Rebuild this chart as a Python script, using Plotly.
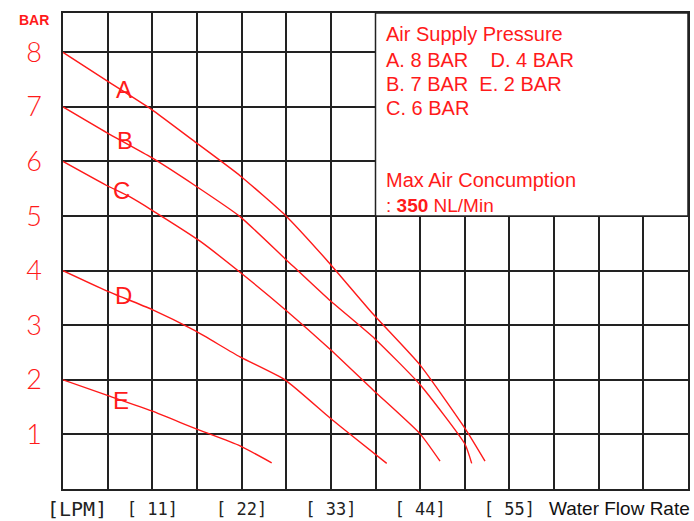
import plotly.graph_objects as go

# ---- data (flow in LPM, pressure in BAR) ----
curve_names = ["A", "B", "C", "D", "E"]
flow_A = [0, 5.38, 10.93, 16.26, 21.81, 27.35, 32.69, 38.23, 44.0, 49.53, 51.99]
bar_A = [8.0, 7.48, 6.95, 6.36, 5.74, 5.02, 4.16, 3.20, 2.27, 1.11, 0.51]
flow_B = [0, 5.38, 10.93, 16.26, 21.81, 27.35, 32.69, 38.44, 44.0, 49.53, 50.35]
bar_B = [7.0, 6.53, 6.07, 5.56, 4.99, 4.22, 3.48, 2.75, 1.91, 0.82, 0.47]
flow_C = [0, 5.38, 8.26, 10.93, 16.88, 21.81, 27.35, 32.90, 38.23, 44.0, 46.45]
bar_C = [6.0, 5.56, 5.35, 5.11, 4.54, 3.97, 3.29, 2.56, 1.81, 1.01, 0.51]
flow_D = [0, 5.38, 10.93, 16.26, 21.81, 27.35, 32.90, 35.57, 39.88]
bar_D = [4.0, 3.63, 3.29, 2.90, 2.42, 2.0, 1.30, 0.98, 0.47]
flow_E = [0, 5.38, 10.93, 16.26, 21.81, 25.71]
bar_E = [2.0, 1.72, 1.43, 1.11, 0.79, 0.48]

x_tick_values = [11, 22, 33, 44, 55]
x_tick_labels = ["[ 11]", "[ 22]", "[ 33]", "[ 44]", "[ 55]"]
y_tick_values = [1, 2, 3, 4, 5, 6, 7, 8]
y_tick_labels = ["1", "2", "3", "4", "5", "6", "7", "8"]

legend_lines = [
    "Air Supply Pressure",
    "A. 8 BAR\u00a0\u00a0\u00a0\u00a0D. 4 BAR",
    "B. 7 BAR\u00a0\u00a0E. 2 BAR",
    "C. 6 BAR",
]
consumption_title = "Max Air Concumption"
consumption_value = ": <b>350</b> NL/Min"

# ---- layout geometry ----
W, H = 694, 521
ML, MR, MT, MB = 63, 6, 13, 32
PLOT_L, PLOT_R, PLOT_T, PLOT_B = 63, 688, 13, 489
X_MAX, Y_MAX = 77, 8.72
RED = "#ff1a1a"
GRID = "#222222"
SANS = "Liberation Sans, Arial"


def px(x):
    return (x - PLOT_L) / (PLOT_R - PLOT_L)


def py(y):
    return (PLOT_B - y) / (PLOT_B - PLOT_T)


curves = [(flow_A, bar_A), (flow_B, bar_B), (flow_C, bar_C), (flow_D, bar_D), (flow_E, bar_E)]

fig = go.Figure()
for name, (fx, fy) in zip(curve_names, curves):
    fig.add_trace(go.Scatter(x=fx, y=fy, mode="lines", name=name,
                             line=dict(color=RED, width=1.4, shape="spline", smoothing=0.5),
                             showlegend=False, hoverinfo="skip"))

# curve labels
label_pos = {"A": (7.5, 7.32), "B": (7.6, 6.39), "C": (7.2, 5.47), "D": (7.5, 3.54), "E": (7.1, 1.62)}
annotations = []
for name in curve_names:
    lx, ly = label_pos[name]
    annotations.append(dict(x=lx, y=ly, xref="x", yref="y", text=name, showarrow=False,
                            font=dict(family=SANS, size=24, color=RED)))

# legend box text
legend_y = [34, 60, 84, 108]
for txt, yy in zip(legend_lines, legend_y):
    annotations.append(dict(x=px(384), y=py(yy), xref="paper", yref="paper", text=txt,
                            showarrow=False, xanchor="left", yanchor="middle",
                            font=dict(family=SANS, size=20, color=RED)))
annotations.append(dict(x=px(384), y=py(180), xref="paper", yref="paper", text=consumption_title,
                        showarrow=False, xanchor="left", yanchor="middle",
                        font=dict(family=SANS, size=20, color=RED)))
annotations.append(dict(x=px(384), y=py(205), xref="paper", yref="paper", text=consumption_value,
                        showarrow=False, xanchor="left", yanchor="middle",
                        font=dict(family=SANS, size=19, color=RED)))

# axis captions
annotations.append(dict(x=px(77), y=py(509), xref="paper", yref="paper", text="[LPM]",
                        showarrow=False, xanchor="center", yanchor="middle",
                        font=dict(family="DejaVu Sans Mono", size=20, color="#222")))
annotations.append(dict(x=px(692), y=py(508), xref="paper", yref="paper", text="Water Flow Rate",
                        showarrow=False, xanchor="right", yanchor="middle",
                        font=dict(family=SANS, size=19, color="#111")))
annotations.append(dict(x=px(34), y=py(20), xref="paper", yref="paper", text="<b>BAR</b>",
                        showarrow=False, xanchor="center", yanchor="middle",
                        font=dict(family=SANS, size=14, color=RED)))

# white legend panel over the grid (upper right)
shapes = [dict(type="rect", xref="x", yref="y", x0=38.5, x1=X_MAX, y0=5, y1=Y_MAX,
               fillcolor="white", line=dict(color=GRID, width=1.5), layer="between")]

fig.update_layout(
    width=W, height=H,
    margin=dict(l=ML, r=MR, t=MT, b=MB, autoexpand=False),
    paper_bgcolor="white", plot_bgcolor="white",
    annotations=annotations, shapes=shapes,
    xaxis=dict(range=[0, X_MAX], tickvals=x_tick_values, ticktext=x_tick_labels,
               automargin=False,
               showgrid=True, gridcolor=GRID, gridwidth=1.5, zeroline=False,
               minor=dict(tick0=0, dtick=5.5, showgrid=True, gridcolor=GRID, gridwidth=1.5),
               showline=True, mirror=True, linecolor=GRID, linewidth=1.5,
               ticks="", ticklabelstandoff=4,
               tickfont=dict(family="DejaVu Sans Mono", size=17, color="#222")),
    yaxis=dict(range=[0, Y_MAX], tickvals=y_tick_values, ticktext=y_tick_labels,
               automargin=False,
               showgrid=True, gridcolor=GRID, gridwidth=1.5, zeroline=False,
               showline=True, mirror=True, linecolor=GRID, linewidth=1.5,
               ticks="", ticklabelstandoff=14,
               tickfont=dict(family="Lato", size=27, color=RED, weight=300)),
)

fig.write_html("out.html", config={"displayModeBar": False},
               post_script="document.body.style.margin='0';document.body.style.overflow='hidden';")
